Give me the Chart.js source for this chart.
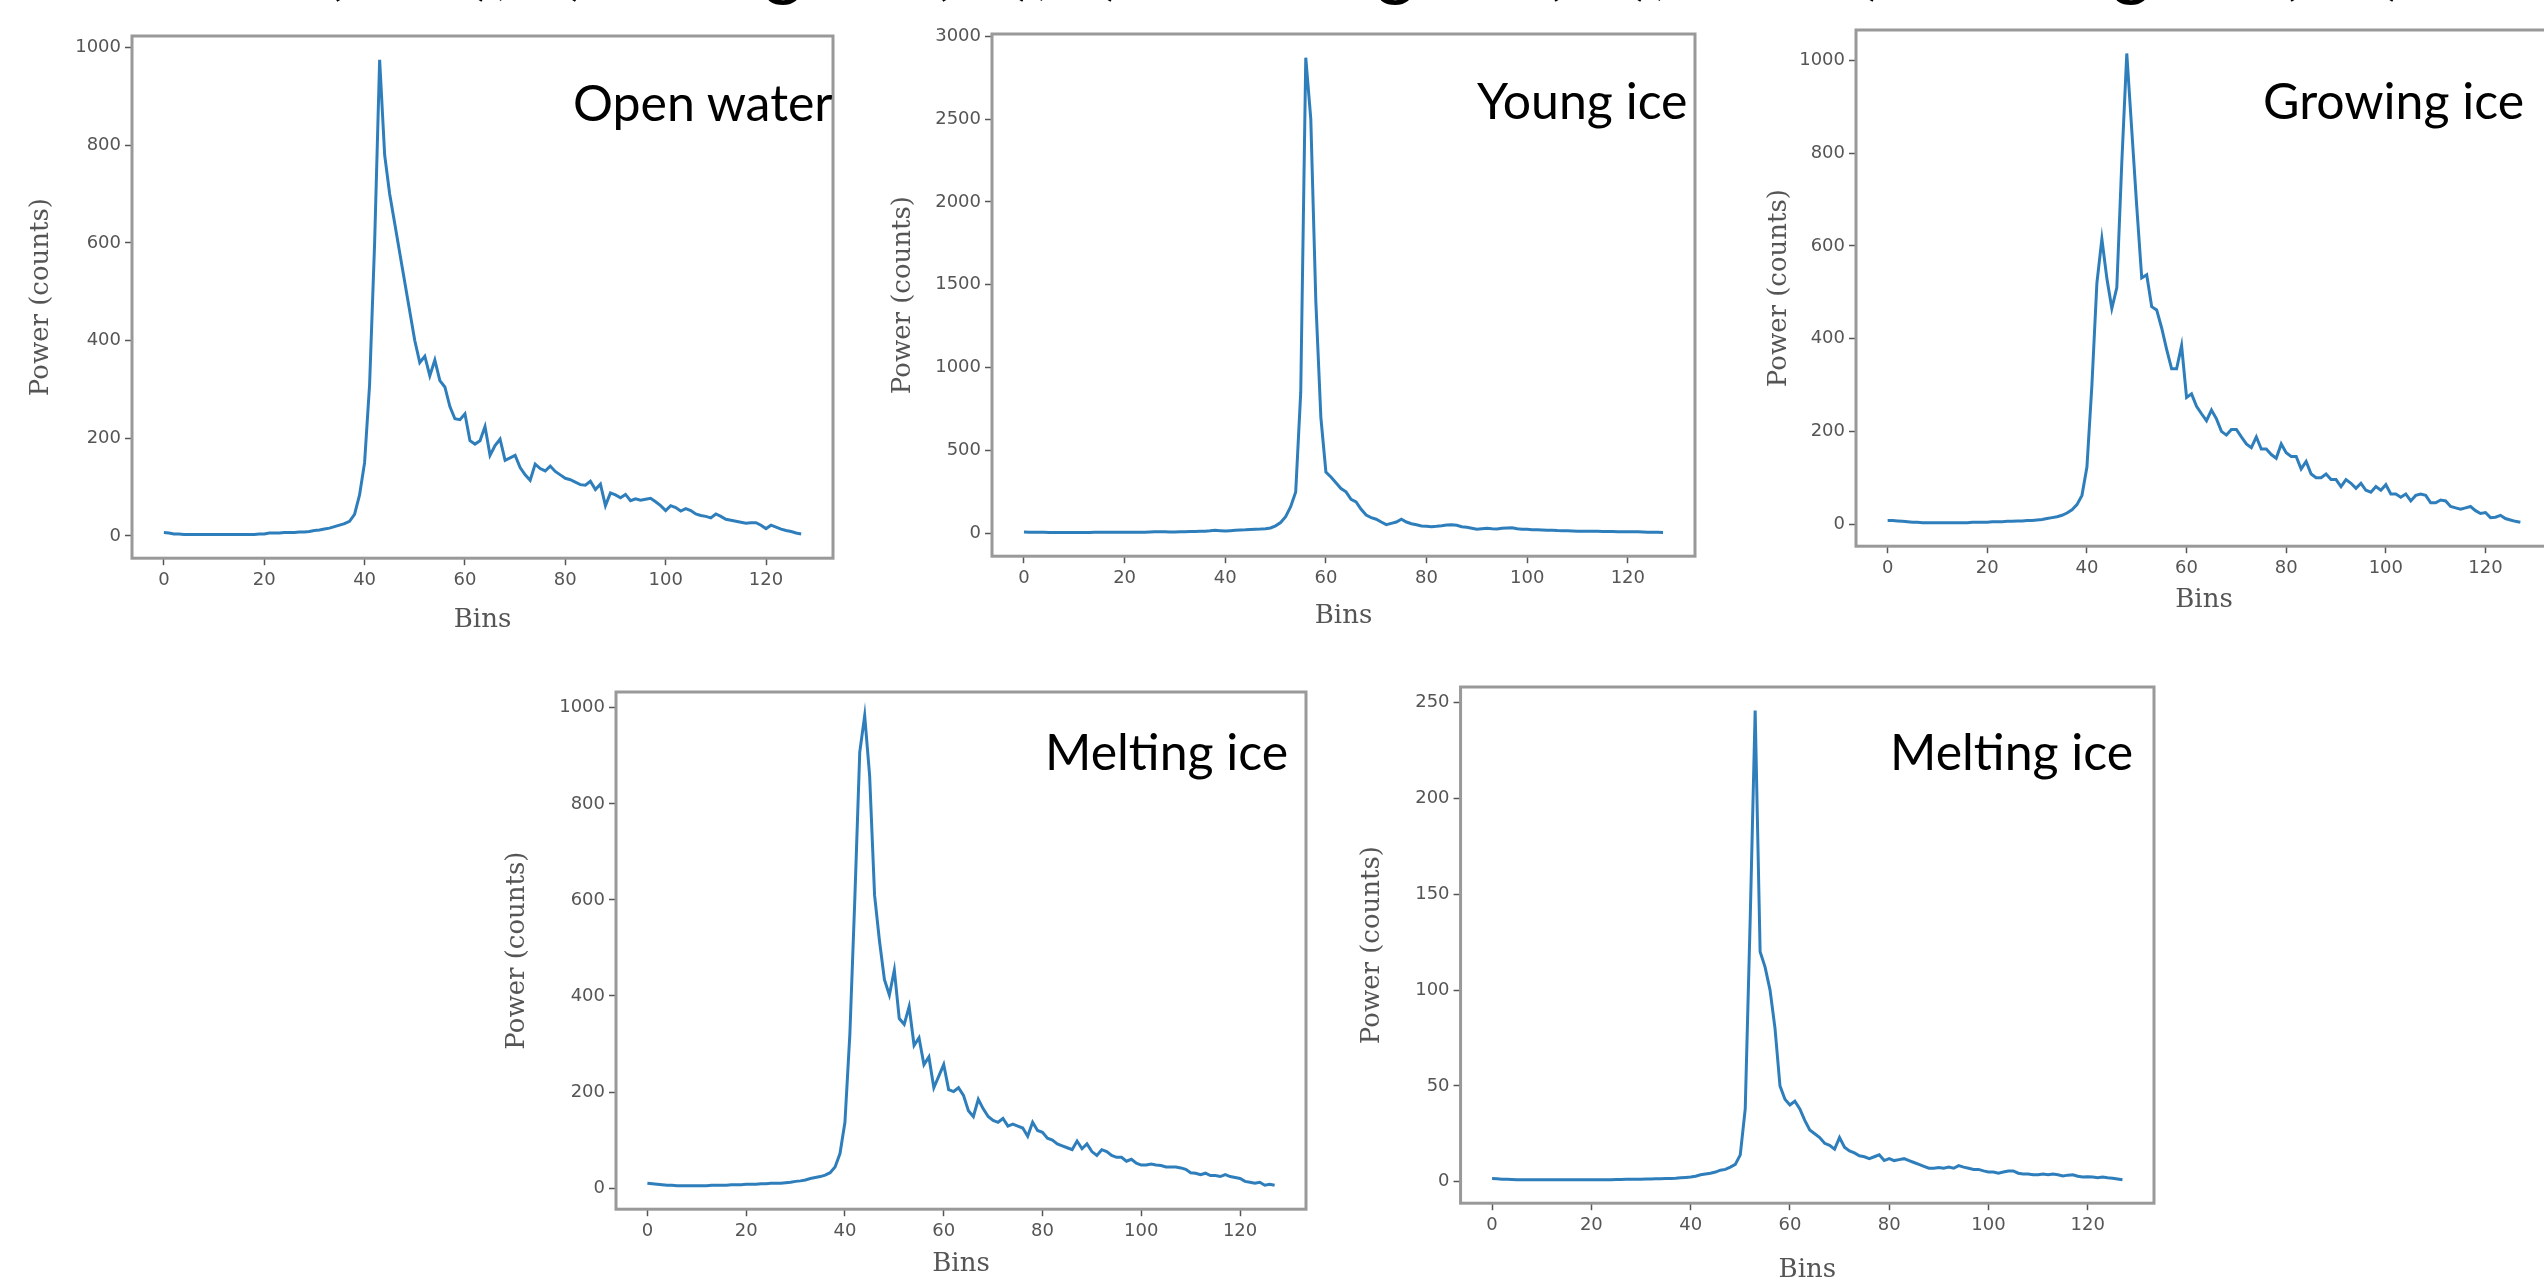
<!DOCTYPE html>
<html>
<head>
<meta charset="utf-8">
<title>Waveform power vs bins</title>
<script src="https://cdn.jsdelivr.net/npm/chart.js@4.4.1/dist/chart.umd.min.js"></script>
<style>
    html, body { margin: 0; padding: 0; background: #fff; }
    body { width: 2544px; height: 1279px; position: relative; overflow: hidden; }
    canvas { position: absolute; }
    .tag { position: absolute; font-family: Lato, sans-serif; font-size: 50px; line-height: 50px; color: #000; white-space: nowrap; }
    #caption { position: absolute; left: 123px; top: -73px; font-family: Lato, sans-serif; font-size: 73px; line-height: 73px; color: #000; white-space: nowrap; }
</style>
</head>
<body>

<div id="caption">water (OW), b) Young ice (YI), c) Growing ice (GI), and d) Melting ice (MI)</div>

<canvas id="c1"></canvas>
<canvas id="c2"></canvas>
<canvas id="c3"></canvas>
<canvas id="c4"></canvas>
<canvas id="c5"></canvas>

<div class="tag" style="left:573px; top:77px;">Open water</div>
<div class="tag" style="left:1477px; top:75px;">Young ice</div>
<div class="tag" style="left:2263px; top:75px;">Growing ice</div>
<div class="tag" style="left:1045px; top:726px;">Melting ice</div>
<div class="tag" style="left:1890px; top:726px;">Melting ice</div>

<script>
// DATOS

const bins = Array.from({ length: 128 }, (_, i) => i);

const xTicks = [0, 20, 40, 60, 80, 100, 120];

const openWater = [
    7, 6, 4, 4, 3, 3, 3, 3, 3, 3,
    3, 3, 3, 3, 3, 3, 3, 3, 3, 4,
    4, 6, 6, 6, 7, 7, 7, 8, 8, 9,
    11, 12, 14, 16, 19, 22, 25, 30, 44, 84,
    150, 310, 600, 975, 780, 700, 640, 580, 520, 460,
    400, 355, 368, 328, 360, 318, 305, 265, 240, 238,
    250, 195, 188, 195, 224, 165, 185, 198, 155, 160,
    165, 140, 125, 114, 147, 138, 133, 143, 132, 125,
    118, 115, 110, 105, 104, 112, 95, 106, 62, 88,
    84, 78, 85, 72, 76, 73, 75, 77, 70, 62,
    52, 62, 58, 51, 56, 52, 45, 42, 40, 37,
    45, 40, 34, 32, 30, 28, 26, 27, 27, 22,
    15, 22, 18, 14, 11, 9, 6, 4
];

const youngIce = [
    8, 7, 6, 6, 6, 5, 5, 5, 5, 5,
    5, 5, 5, 5, 6, 6, 7, 7, 7, 6,
    6, 6, 6, 7, 7, 8, 9, 10, 9, 8,
    8, 9, 10, 11, 11, 12, 13, 15, 18, 16,
    14, 16, 18, 20, 21, 23, 25, 26, 28, 32,
    45, 65, 100, 160, 250, 850, 2870, 2500, 1400, 700,
    370, 340, 305, 270, 250, 205, 190, 145, 110, 95,
    85, 68, 52, 60, 68, 85, 68, 58, 52, 44,
    42, 40, 42, 45, 50, 52, 48, 40, 36, 30,
    24, 28, 31, 27, 26, 30, 32, 34, 28, 24,
    24, 22, 21, 20, 19, 19, 17, 16, 15, 14,
    13, 13, 12, 12, 12, 11, 11, 11, 10, 10,
    10, 9, 9, 8, 7, 7, 6, 5
];

const growingIce = [
    8, 8, 7, 6, 5, 4, 4, 3, 3, 3,
    3, 3, 3, 3, 3, 3, 3, 4, 4, 4,
    4, 5, 5, 5, 6, 6, 7, 7, 8, 8,
    9, 10, 12, 14, 16, 19, 24, 31, 42, 62,
    123, 300, 520, 615, 530, 465, 510, 780, 1015, 850,
    685, 531, 538, 469, 462, 423, 377, 335, 335, 385,
    273, 281, 254, 238, 223, 246, 227, 200, 192, 204,
    204, 188, 173, 165, 188, 162, 162, 150, 142, 173,
    154, 146, 146, 119, 135, 108, 100, 100, 108, 96,
    96, 81, 96, 88, 77, 88, 73, 69, 81, 73,
    85, 65, 65, 58, 65, 50, 62, 65, 62, 46,
    46, 52, 50, 38, 35, 32, 35, 38, 29, 23,
    25, 14, 15, 19, 12, 9, 6, 4
];

const meltingIceA = [
    10, 9, 8, 7, 6, 6, 5, 5, 5, 5,
    5, 5, 5, 6, 6, 6, 6, 7, 7, 7,
    8, 8, 8, 9, 9, 10, 10, 10, 11, 12,
    14, 15, 17, 20, 22, 24, 27, 32, 44, 72,
    137, 321, 602, 908, 984, 859, 610, 514, 434, 402,
    454, 353, 341, 378, 297, 313, 257, 273, 209, 233,
    257, 205, 201, 209, 193, 161, 149, 185, 165, 149,
    141, 137, 145, 129, 133, 129, 125, 108, 137, 120,
    116, 104, 100, 92, 88, 84, 80, 98, 82, 92,
    76, 68, 80, 76, 68, 64, 64, 56, 60, 52,
    48, 48, 50, 48, 47, 44, 44, 44, 42, 39,
    32, 31, 28, 31, 26, 26, 24, 28, 24, 22,
    20, 14, 12, 10, 12, 6, 8, 6
];

const meltingIceB = [
    1.6, 1.5, 1.3, 1.2, 1.1, 1, 1, 1, 1, 1,
    1, 1, 1, 1, 1, 1, 1, 1, 1, 1,
    1, 1, 1, 1, 1, 1.1, 1.1, 1.2, 1.2, 1.3,
    1.3, 1.4, 1.4, 1.5, 1.5, 1.6, 1.7, 1.8, 2, 2.2,
    2.4, 2.8, 3.6, 4, 4.4, 5, 6, 6.4, 7.6, 9,
    14, 38, 137, 246, 120, 112, 100, 80, 50, 43,
    40, 42, 38, 32, 27, 25, 23, 20, 19, 17,
    23, 18, 16, 15, 13.5, 13, 12, 13, 14, 11,
    12, 11, 11.5, 12, 11, 10, 9, 8, 7, 7,
    7.4, 7, 7.6, 7, 8.4, 7.6, 7, 6.4, 6.4, 5.6,
    5, 5, 4.4, 5, 5.6, 5.6, 4.4, 4, 4, 3.6,
    3.6, 4, 3.6, 4, 3.6, 3, 3.4, 3.6, 2.8, 2.4,
    2.6, 2.4, 2, 2.4, 2, 1.8, 1.4, 1
];

const yTicksOpenWater = [0, 200, 400, 600, 800, 1000];
const yTicksYoungIce = [0, 500, 1000, 1500, 2000, 2500, 3000];
const yTicksGrowingIce = [0, 200, 400, 600, 800, 1000];
const yTicksMeltingA = [0, 200, 400, 600, 800, 1000];
const yTicksMeltingB = [0, 50, 100, 150, 200, 250];



// ESTILO

const LINE_COLOR = '#2f7ebc';
const TICK_COLOR = '#555';
const FRAME_COLOR = '#999';

/**
 * Dibuja el marco gris alrededor del area de datos.
 */
const framePlugin = {
    id: 'frame',
    afterDraw(chart) {
        const { ctx, chartArea: a } = chart;
        ctx.save();
        ctx.strokeStyle = FRAME_COLOR;
        ctx.lineWidth = 3;
        ctx.strokeRect(a.left, a.top, a.right - a.left, a.bottom - a.top);
        ctx.restore();
    }
};

/**
 * Construye la configuracion de una grafica.
 */
function makeConfig(values, yTicks, yPad, xPad) {
    const lo = Math.min(...values);
    const hi = Math.max(...values);
    const m = (hi - lo) * 0.05;
    const xLast = bins[bins.length - 1];
    const tickFont = { family: 'DejaVu Sans', size: 18 };
    const titleFont = { family: 'DejaVu Serif', size: 26 };
    const plain = (v) => String(v);

    return {
        type: 'line',
        data: {
            datasets: [{
                data: bins.map((b, i) => ({ x: b, y: values[i] })),
                borderColor: LINE_COLOR,
                borderWidth: 3,
                pointRadius: 0,
                tension: 0,
                fill: false
            }]
        },
        options: {
            responsive: false,
            animation: false,
            events: [],
            layout: { padding: { top: 20, right: 20, left: 0, bottom: 0 } },
            plugins: { legend: { display: false }, tooltip: { enabled: false } },
            scales: {
                x: {
                    type: 'linear',
                    min: -xLast * 0.05,
                    max: xLast * 1.05,
                    afterBuildTicks: (s) => { s.ticks = xTicks.map(v => ({ value: v })); },
                    ticks: { font: tickFont, color: TICK_COLOR, padding: 4, autoSkip: false, maxRotation: 0, callback: plain },
                    grid: { display: true, drawOnChartArea: false, drawTicks: true, tickLength: 7, tickColor: TICK_COLOR, tickWidth: 1.5 },
                    border: { display: false },
                    title: { display: true, text: 'Bins', font: titleFont, color: '#555', padding: { top: xPad, bottom: 0 } }
                },
                y: {
                    type: 'linear',
                    min: lo - m,
                    max: hi + m,
                    afterBuildTicks: (s) => { s.ticks = yTicks.map(v => ({ value: v })); },
                    ticks: { font: tickFont, color: TICK_COLOR, padding: 4, autoSkip: false, callback: plain },
                    grid: { display: true, drawOnChartArea: false, drawTicks: true, tickLength: 7, tickColor: TICK_COLOR, tickWidth: 1.5 },
                    border: { display: false },
                    title: { display: true, text: 'Power (counts)', font: titleFont, color: '#555', padding: { top: 0, bottom: yPad } }
                }
            }
        },
        plugins: [framePlugin]
    };
}

/**
 * Crea la grafica y la coloca para que el area de datos caiga en el marco pedido.
 */
function build(id, values, yTicks, frame) {
    const canvas = document.getElementById(id);
    const fw = frame.r - frame.l;
    const fh = frame.b - frame.t;

    canvas.width = fw + 200;
    canvas.height = fh + 140;
    let chart = new Chart(canvas, makeConfig(values, yTicks, frame.yPad, frame.xPad));
    const a = chart.chartArea;
    const w = Math.round(canvas.width + fw - (a.right - a.left));
    const h = Math.round(canvas.height + fh - (a.bottom - a.top));
    chart.destroy();

    canvas.width = w;
    canvas.height = h;
    chart = new Chart(canvas, makeConfig(values, yTicks, frame.yPad, frame.xPad));
    const b = chart.chartArea;
    canvas.style.left = (frame.l - b.left) + 'px';
    canvas.style.top = (frame.t - b.top) + 'px';
    return chart;
}



// GRAFICAS

build('c1', openWater, yTicksOpenWater, { l: 132, t: 36, r: 833, b: 558, yPad: 14, xPad: 10 });
build('c2', youngIce, yTicksYoungIce, { l: 992, t: 34, r: 1695, b: 556, yPad: 12, xPad: 8 });
build('c3', growingIce, yTicksGrowingIce, { l: 1856, t: 30, r: 2552, b: 546, yPad: 0, xPad: 2 });
build('c4', meltingIceA, yTicksMeltingA, { l: 616, t: 692, r: 1306, b: 1209, yPad: 22, xPad: 3 });
build('c5', meltingIceB, yTicksMeltingB, { l: 1461, t: 687, r: 2154, b: 1203, yPad: 23, xPad: 15 });
</script>
</body>
</html>
